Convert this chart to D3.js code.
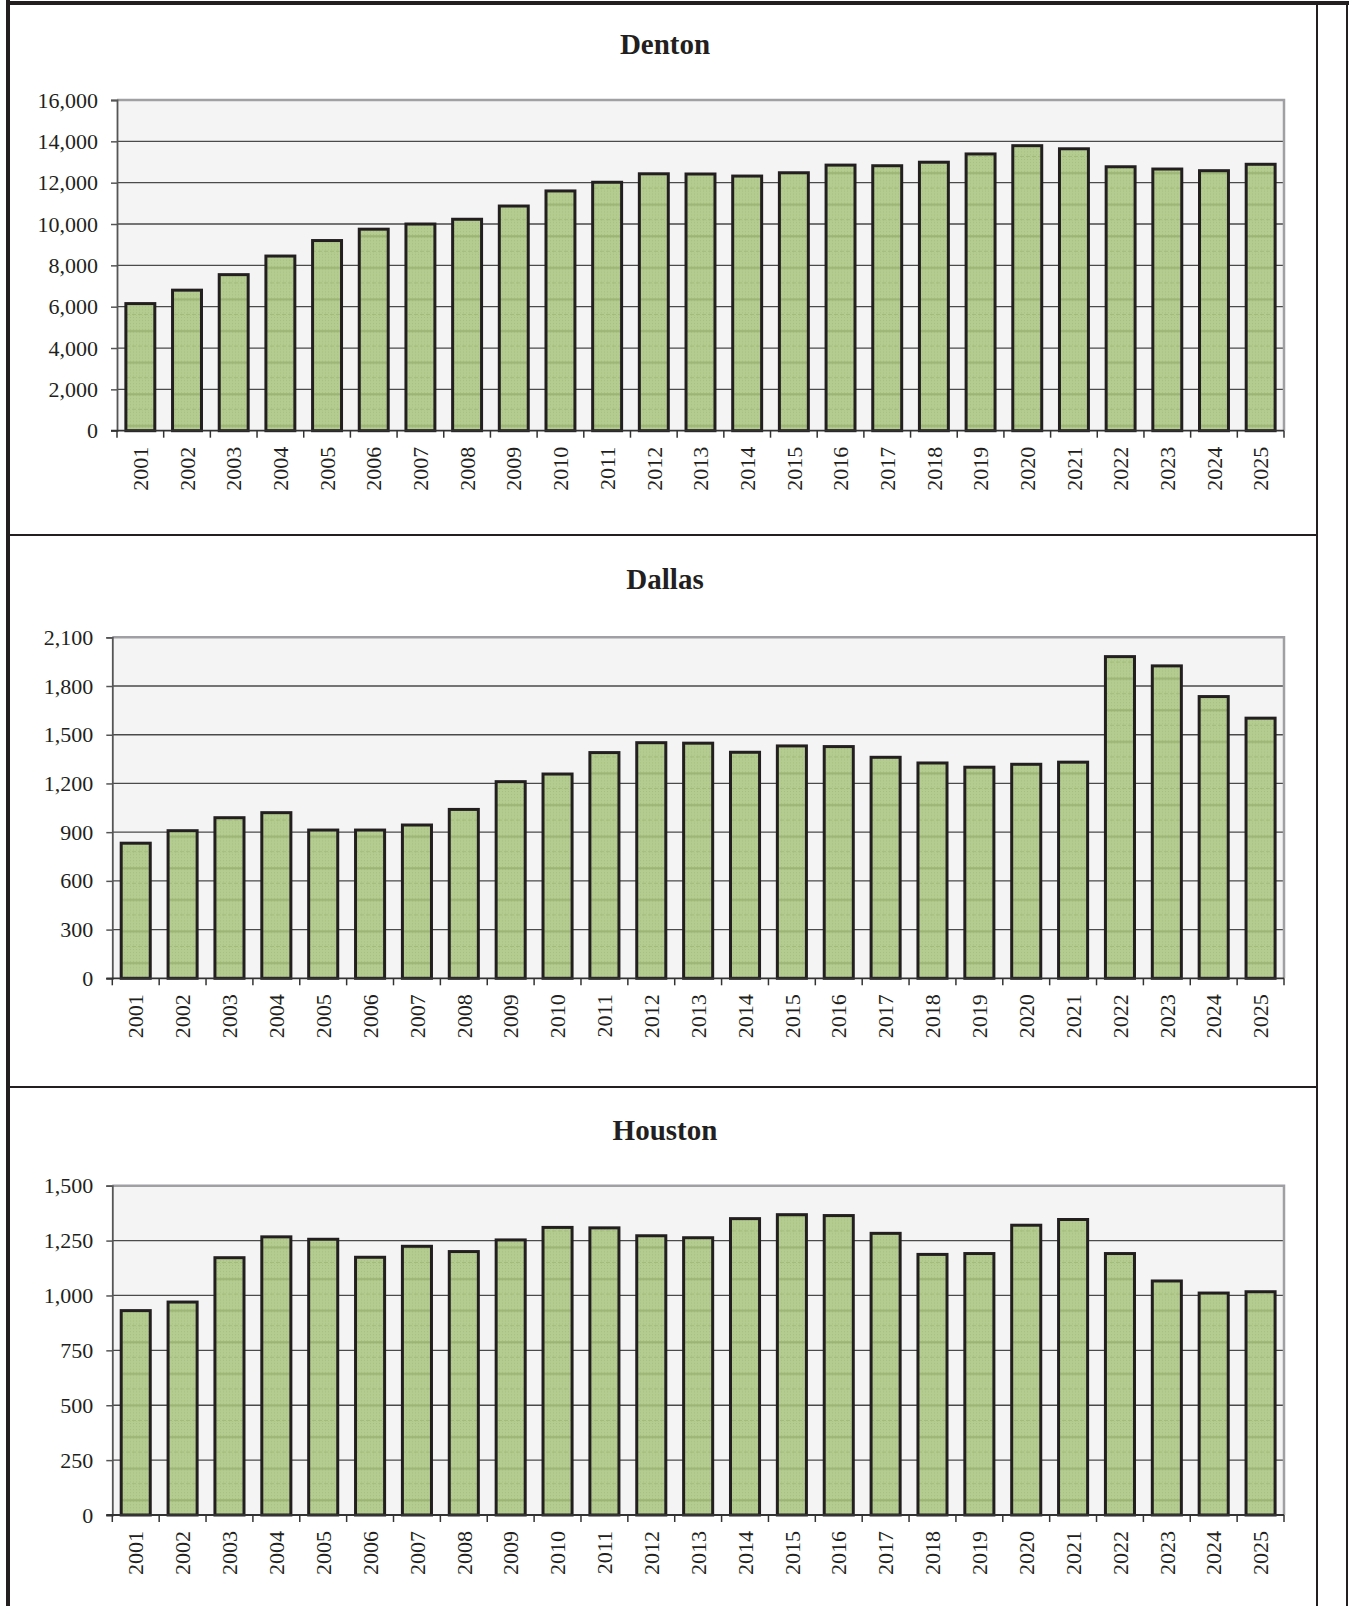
<!DOCTYPE html>
<html>
<head>
<meta charset="utf-8">
<script src="https://cdn.jsdelivr.net/npm/d3@7"></script>
<style>
  html, body { margin: 0; padding: 0; background: #ffffff; }
  svg { display: block; }
</style>
</head>
<body>
<svg id="chart" width="1351" height="1606"></svg>
<script>
// ---------- data ----------
const years = ["2001","2002","2003","2004","2005","2006","2007","2008","2009","2010","2011","2012","2013",
               "2014","2015","2016","2017","2018","2019","2020","2021","2022","2023","2024","2025"];
const dentonValues = [6150, 6800, 7550, 8450, 9200, 9750, 10000, 10230, 10870, 11600, 12020, 12430, 12420,
                      12320, 12480, 12850, 12820, 12990, 13390, 13790, 13640, 12770, 12660, 12580, 12890];
const dallasValues = [832, 909, 989, 1020, 913, 913, 944, 1040, 1211, 1258, 1390, 1451, 1448,
                      1392, 1431, 1427, 1361, 1326, 1300, 1318, 1331, 1981, 1924, 1735, 1602];
const houstonValues = [931, 970, 1172, 1267, 1256, 1174, 1224, 1200, 1253, 1310, 1308, 1272, 1263,
                       1350, 1368, 1364, 1283, 1187, 1191, 1320, 1346, 1191, 1066, 1011, 1017];
const dentonTicks = [0, 2000, 4000, 6000, 8000, 10000, 12000, 14000, 16000];
const dallasTicks = [0, 300, 600, 900, 1200, 1500, 1800, 2100];
const houstonTicks = [0, 250, 500, 750, 1000, 1250, 1500];
const titles = ["Denton", "Dallas", "Houston"];

// ---------- layout ----------
const panels = [
  { title: titles[0], values: dentonValues, ticks: dentonTicks, left: 117,   right: 1284, top: 100,   bottom: 430.7, titleY: 54 },
  { title: titles[1], values: dallasValues, ticks: dallasTicks, left: 112.3, right: 1284, top: 637.3, bottom: 978.3, titleY: 589 },
  { title: titles[2], values: houstonValues, ticks: houstonTicks, left: 112.3, right: 1284, top: 1185.7, bottom: 1515, titleY: 1140 }
];

const svg = d3.select("#chart");
const font = "'Liberation Serif', 'Times New Roman', serif";
const ink = "#231f20";

// bar texture pattern
const defs = svg.append("defs");
const pat = defs.append("pattern")
  .attr("id", "barfill").attr("patternUnits", "userSpaceOnUse")
  .attr("width", 6).attr("height", 31.6);
pat.append("rect").attr("width", 6).attr("height", 31.6).attr("fill", "#b5cc90");
[0, 3].forEach(px => {
  for (let py = 0; py < 31; py += 3) {
    pat.append("rect").attr("x", px + 1).attr("y", py + 1).attr("width", 1).attr("height", 1)
      .attr("fill", "#a6bf80");
  }
});
pat.append("rect").attr("x", 0).attr("y", 14).attr("width", 6).attr("height", 2.2).attr("fill", "#98b272").attr("opacity", 0.85);
pat.append("rect").attr("x", 0).attr("y", 29.6).attr("width", 4).attr("height", 1).attr("fill", "#a3bc7d");

// ---------- frame ----------
svg.append("line").attr("x1", 8).attr("x2", 8).attr("y1", 0).attr("y2", 1606)
  .attr("stroke", ink).attr("stroke-width", 4);
svg.append("line").attr("x1", 6).attr("x2", 1349).attr("y1", 3).attr("y2", 3)
  .attr("stroke", ink).attr("stroke-width", 4);
svg.append("line").attr("x1", 1317).attr("x2", 1317).attr("y1", 3).attr("y2", 1606)
  .attr("stroke", ink).attr("stroke-width", 2);
svg.append("line").attr("x1", 1347).attr("x2", 1347).attr("y1", 3).attr("y2", 1606)
  .attr("stroke", ink).attr("stroke-width", 2);
[535, 1087].forEach(yy => {
  svg.append("line").attr("x1", 8).attr("x2", 1317).attr("y1", yy).attr("y2", yy)
    .attr("stroke", ink).attr("stroke-width", 2);
});

// ---------- panels ----------
panels.forEach(p => {
  const g = svg.append("g");
  const x = d3.scaleBand().domain(years).range([p.left, p.right]).paddingInner(0.38).paddingOuter(0.19);
  const yMax = p.ticks[p.ticks.length - 1];
  const y = d3.scaleLinear().domain([0, yMax]).range([p.bottom, p.top]);

  // title
  g.append("text").attr("x", 665).attr("y", p.titleY)
    .attr("text-anchor", "middle").attr("font-family", font).attr("font-weight", "bold")
    .attr("font-size", 29).attr("fill", ink).text(p.title);

  // plot background
  g.append("rect").attr("x", p.left).attr("y", p.top)
    .attr("width", p.right - p.left).attr("height", p.bottom - p.top).attr("fill", "#f4f4f4");

  // gridlines
  g.append("g").selectAll("line").data(p.ticks.filter(t => t > 0 && t < yMax)).join("line")
    .attr("x1", p.left).attr("x2", p.right)
    .attr("y1", d => y(d)).attr("y2", d => y(d))
    .attr("stroke", "#4a4a4a").attr("stroke-width", 1.3);

  // plot border (top & right)
  g.append("path")
    .attr("d", `M${p.left},${y(yMax)}H${p.right}V${p.bottom}`)
    .attr("fill", "none").attr("stroke", "#a0a0a4").attr("stroke-width", 2.5);

  // bars
  g.append("g").selectAll("rect").data(p.values).join("rect")
    .attr("x", (d, i) => x(years[i]))
    .attr("width", x.bandwidth())
    .attr("y", d => y(d))
    .attr("height", d => y(0) - y(d))
    .attr("fill", "url(#barfill)")
    .attr("stroke", ink).attr("stroke-width", 3);

  // y axis
  const yAxis = d3.axisLeft(y).tickValues(p.ticks).tickSize(6).tickPadding(13)
    .tickFormat(d3.format(","));
  const ya = g.append("g").attr("transform", `translate(${p.left},0)`).call(yAxis);
  ya.select(".domain").attr("stroke", "#555").attr("stroke-width", 1.8);
  ya.selectAll(".tick line").attr("stroke", "#555").attr("stroke-width", 1.5);
  ya.selectAll(".tick text").attr("font-family", font).attr("font-size", 22).attr("fill", ink);

  // x axis baseline with boundary ticks
  const xa = g.append("g");
  xa.append("line").attr("x1", p.left - 6).attr("x2", p.right).attr("y1", p.bottom).attr("y2", p.bottom)
    .attr("stroke", "#333").attr("stroke-width", 1.8);
  const bounds = years.map(yr => x(yr) - x.step() * x.paddingOuter()).concat([p.right]);
  xa.selectAll("line.bt").data(bounds).join("line").attr("class", "bt")
    .attr("x1", d => d).attr("x2", d => d)
    .attr("y1", p.bottom).attr("y2", p.bottom + 7)
    .attr("stroke", "#333").attr("stroke-width", 1.5);
  xa.selectAll("text").data(years).join("text")
    .attr("transform", d => `translate(${x(d) + x.bandwidth() / 2},${p.bottom + 16}) rotate(-90)`)
    .attr("text-anchor", "end").attr("dy", "0.35em")
    .attr("font-family", font).attr("font-size", 22).attr("fill", ink)
    .text(d => d);
});
</script>
</body>
</html>
